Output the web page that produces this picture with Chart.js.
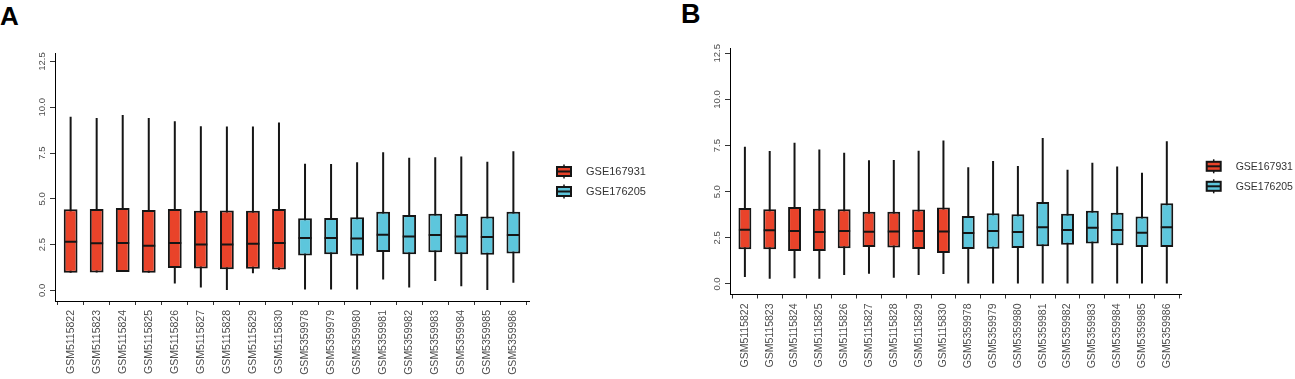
<!DOCTYPE html>
<html>
<head>
<meta charset="utf-8">
<script src="https://cdn.jsdelivr.net/npm/chart.js@4.4.0/dist/chart.umd.min.js"></script>
<style>
  html, body { margin: 0; padding: 0; background: #fff; }
  body { width: 1295px; height: 379px; position: relative; overflow: hidden; font-family: "Liberation Sans", Arial, sans-serif; }
  canvas { position: absolute; top: 0; }
  .tag { position: absolute; font-weight: bold; line-height: 1; color: #000; }
</style>
</head>
<body>
<div class="tag" id="tagA" style="left:0px;top:3px;font-size:26px">A</div>
<div class="tag" id="tagB" style="left:681px;top:1px;font-size:27px">B</div>
<canvas id="chartA" width="660" height="379" style="left:0px"></canvas>
<canvas id="chartB" width="635" height="379" style="left:660px"></canvas>
<script>
// samples and the dataset each one comes from
var samples = [
  "GSM5115822", "GSM5115823", "GSM5115824", "GSM5115825", "GSM5115826",
  "GSM5115827", "GSM5115828", "GSM5115829", "GSM5115830",
  "GSM5359978", "GSM5359979", "GSM5359980", "GSM5359981", "GSM5359982",
  "GSM5359983", "GSM5359984", "GSM5359985", "GSM5359986"
];
var groups = ["GSE167931", "GSE176205"];
var sampleGroup = [0, 0, 0, 0, 0, 0, 0, 0, 0, 1, 1, 1, 1, 1, 1, 1, 1, 1];
var yTicks = [0, 2.5, 5, 7.5, 10, 12.5];

// panel A (before normalization)
var aMin = [0.96, 0.98, 1.0, 0.96, 0.38, 0.16, 0.02, 0.93, 1.12, 0.05, 0.05, 0.05, 0.6, 0.16, 0.51, 0.22, 0.02, 0.42];
var aQ1  = [0.96, 0.98, 1.0, 0.96, 1.22, 1.2, 1.15, 1.18, 1.14, 1.91, 1.97, 1.89, 2.09, 1.98, 2.08, 1.98, 1.95, 2.02];
var aMed = [2.66, 2.57, 2.59, 2.44, 2.59, 2.51, 2.51, 2.55, 2.59, 2.86, 2.86, 2.84, 3.04, 2.95, 3.02, 2.95, 2.91, 3.02];
var aQ3  = [4.43, 4.45, 4.5, 4.39, 4.45, 4.35, 4.37, 4.35, 4.45, 3.94, 3.95, 3.99, 4.3, 4.12, 4.19, 4.17, 4.03, 4.3];
var aMax = [9.49, 9.42, 9.58, 9.42, 9.24, 8.97, 8.95, 8.95, 9.17, 6.92, 6.91, 7.0, 7.55, 7.25, 7.27, 7.31, 7.03, 7.6];

// panel B (after normalization)
var bMin = [0.38, 0.29, 0.31, 0.29, 0.49, 0.56, 0.34, 0.49, 0.54, 0, 0, 0, 0, 0, 0, 0, 0, 0];
var bQ1  = [1.88, 1.88, 1.79, 1.79, 1.93, 2.0, 1.97, 1.9, 1.68, 1.9, 1.91, 1.95, 2.04, 2.13, 2.2, 2.1, 2.0, 2.0];
var bMed = [2.94, 2.91, 2.87, 2.82, 2.87, 2.83, 2.85, 2.87, 2.85, 2.76, 2.87, 2.82, 3.07, 2.93, 3.05, 2.93, 2.78, 3.07];
var bQ3  = [4.12, 4.05, 4.17, 4.08, 4.05, 3.92, 3.92, 4.03, 4.15, 3.68, 3.83, 3.78, 4.44, 3.81, 3.97, 3.86, 3.65, 4.37];
var bMax = [7.44, 7.2, 7.65, 7.28, 7.11, 6.7, 6.72, 7.22, 7.78, 6.32, 6.66, 6.39, 7.91, 6.19, 6.57, 6.36, 6.03, 7.73];

var groupColors = ["#E9432A", "#5DC6DC"];
var lineColor = "#151515";
var textGrey = "#4D4D4D";
var fontFamily = "'Liberation Sans', Arial, sans-serif";

// legend with little boxplot glyphs, placed next to the plot area
var boxLegend = {
  id: "boxLegend",
  afterDraw: function (chart, args, opts) {
    var ctx = chart.ctx;
    var area = chart.chartArea;
    groups.forEach(function (name, k) {
      var x = area.right + opts.dx;
      var cy = area.top + opts.dy + k * opts.gap;
      var w = 14, h = 9;
      ctx.save();
      ctx.strokeStyle = lineColor;
      ctx.lineWidth = 1.5;
      ctx.beginPath();
      ctx.moveTo(x + w / 2, cy - h / 2 - 2.5);
      ctx.lineTo(x + w / 2, cy + h / 2 + 2.5);
      ctx.stroke();
      ctx.fillStyle = groupColors[k];
      ctx.fillRect(x, cy - h / 2, w, h);
      ctx.lineWidth = 2;
      ctx.strokeRect(x, cy - h / 2, w, h);
      ctx.beginPath();
      ctx.moveTo(x, cy);
      ctx.lineTo(x + w, cy);
      ctx.stroke();
      ctx.fillStyle = "#333333";
      ctx.font = opts.fontSize + "px " + fontFamily;
      ctx.textBaseline = "middle";
      ctx.textAlign = "left";
      ctx.fillText(name, x + opts.textDx, cy + 0.5);
      ctx.restore();
    });
  }
};

function makePanel(canvasId, mins, q1s, meds, q3s, maxs, geo) {
  var fills = sampleGroup.map(function (g) { return groupColors[g]; });

  new Chart(document.getElementById(canvasId), {
    type: "bar",
    data: {
      datasets: [
        {
          // median line
          type: "line",
          order: 1,
          showLine: false,
          data: meds.map(function (v, i) { return { x: i, y: v }; }),
          pointStyle: "line",
          pointRadius: geo.medRadius,
          pointHoverRadius: geo.medRadius,
          pointBorderWidth: 2,
          pointBorderColor: lineColor,
          pointBackgroundColor: lineColor
        },
        {
          // box from Q1 to Q3
          order: 2,
          grouped: false,
          data: q1s.map(function (v, i) { return { x: i, y: [v, q3s[i]] }; }),
          backgroundColor: fills,
          borderColor: lineColor,
          borderWidth: 2,
          borderSkipped: false,
          categoryPercentage: 1,
          barPercentage: geo.boxFrac
        },
        {
          // whisker from min to max
          order: 3,
          grouped: false,
          data: mins.map(function (v, i) { return { x: i, y: [v, maxs[i]] }; }),
          backgroundColor: lineColor,
          borderWidth: 0,
          categoryPercentage: 1,
          barPercentage: 0.1,
          maxBarThickness: 2
        }
      ]
    },
    options: {
      responsive: false,
      animation: false,
      devicePixelRatio: 1,
      layout: {
        padding: { left: 0, top: geo.top, right: geo.right, bottom: 0 }
      },
      plugins: {
        legend: { display: false },
        tooltip: { enabled: false },
        boxLegend: { dx: geo.legDx, dy: 118, gap: 20, textDx: 29, fontSize: geo.legFont }
      },
      scales: {
        x: {
          type: "linear",
          offset: false,
          min: -0.6,
          max: samples.length - 0.4,
          afterBuildTicks: function (scale) {
            scale.ticks = samples.map(function (s, i) { return { value: i }; });
          },
          afterFit: function (scale) { scale.height = geo.xHeight; },
          grid: { drawOnChartArea: false, drawTicks: true, tickLength: 4, tickColor: "#333333", tickWidth: 1 },
          border: { display: true, color: "#000000", width: 1 },
          ticks: {
            autoSkip: false,
            minRotation: 90,
            maxRotation: 90,
            padding: 5,
            color: textGrey,
            font: { family: fontFamily, size: 10.5 },
            callback: function (v) { return samples[v]; }
          }
        },
        y: {
          min: geo.yMin,
          max: geo.yMax,
          afterBuildTicks: function (scale) {
            scale.ticks = yTicks.map(function (v) { return { value: v }; });
          },
          afterFit: function (scale) { scale.width = geo.yWidth; },
          grid: { drawOnChartArea: false, drawTicks: true, tickLength: 5, tickColor: "#333333", tickWidth: 1 },
          border: { display: true, color: "#000000", width: 1 },
          ticks: {
            minRotation: 90,
            maxRotation: 90,
            crossAlign: "center",
            padding: -2,
            color: textGrey,
            font: { family: fontFamily, size: 9.5 },
            callback: function (v) { return v.toFixed(1); }
          }
        }
      }
    },
    plugins: [boxLegend]
  });
}

makePanel("chartA", aMin, aQ1, aMed, aQ3, aMax, {
  top: 53.5, right: 131, xHeight: 78, yWidth: 55,
  yMin: -0.58, yMax: 12.94,
  boxFrac: 0.53, medRadius: 6.5,
  legDx: 28, legFont: 11
});

makePanel("chartB", bMin, bQ1, bMed, bQ3, bMax, {
  top: 48.3, right: 113.3, xHeight: 84.5, yWidth: 70,
  yMin: -0.57, yMax: 12.77,
  boxFrac: 0.52, medRadius: 6,
  legDx: 25, legFont: 10.5
});
</script>
</body>
</html>
